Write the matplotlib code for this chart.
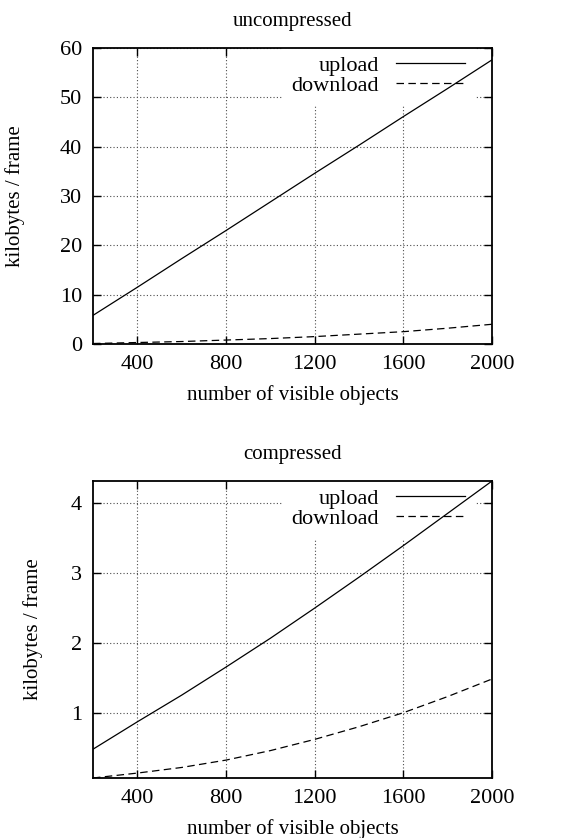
import matplotlib.pyplot as plt

plt.rcParams["font.family"] = ["Liberation Serif", "DejaVu Serif"]

# number of visible objects
objects = [200, 400, 600, 800, 1000, 1200, 1400, 1600, 1800, 2000]

# kilobytes / frame
raw_upload = [5.8, 11.5, 17.3, 23.0, 28.8, 34.6, 40.3, 46.1, 51.8, 57.6]
raw_download = [0.1, 0.3, 0.5, 0.8, 1.1, 1.5, 2.0, 2.5, 3.2, 4.0]
comp_upload = [0.49, 0.88, 1.26, 1.66, 2.07, 2.50, 2.94, 3.39, 3.85, 4.31]
comp_download = [0.08, 0.15, 0.23, 0.335, 0.47, 0.63, 0.81, 1.01, 1.24, 1.49]

x_ticks = [400, 800, 1200, 1600, 2000]
raw_yticks = [0, 10, 20, 30, 40, 50, 60]
comp_yticks = [1, 2, 3, 4]

FS = 16


def draw(ax, title, upload, download, yticks, ylim, ylab_x):
    ax.plot(objects, upload, color="black", lw=0.9, label="upload", zorder=3)
    ax.plot(objects, download, color="black", lw=0.9, ls=(0, (6, 3.5)),
            label="download", zorder=3)
    ax.set_xlim(objects[0], objects[-1])
    ax.set_ylim(*ylim)
    ax.set_xticks(x_ticks)
    ax.set_yticks(yticks)
    ax.grid(True, color="0.3", lw=0.8, ls=(0, (1, 2)), zorder=1)
    ax.tick_params(direction="in", length=6, width=1, top=True, right=True,
                   labelsize=FS, pad=8)
    for s in ax.spines.values():
        s.set_linewidth(1.3)
    ax.set_title(title, fontsize=FS - 1, pad=16)
    ax.set_xlabel("number of visible objects", fontsize=FS - 1, labelpad=8)
    ax.set_ylabel("kilobytes / frame", fontsize=FS - 1)
    ax.yaxis.set_label_coords(ylab_x, 0.5)
    leg = ax.legend(loc="upper right", bbox_to_anchor=(0.957, 1.01),
                    markerfirst=False, fontsize=FS, handlelength=3.1,
                    handletextpad=0.76, labelspacing=0.0, borderpad=0.45,
                    borderaxespad=0, frameon=True, fancybox=False,
                    framealpha=1, facecolor="white", edgecolor="none")
    leg.set_zorder(2)


fig = plt.figure(figsize=(5.75, 8.38), dpi=100)
ax1 = fig.add_axes([0.1617, 0.5895, 0.694, 0.3532])
ax2 = fig.add_axes([0.1617, 0.0716, 0.694, 0.3544])

draw(ax1, "uncompressed", raw_upload, raw_download, raw_yticks, (0, 60),
     -0.17)
draw(ax2, "compressed", comp_upload, comp_download, comp_yticks,
     (min(comp_download), max(comp_upload)), -0.125)

fig.savefig("out.png", dpi=100)
